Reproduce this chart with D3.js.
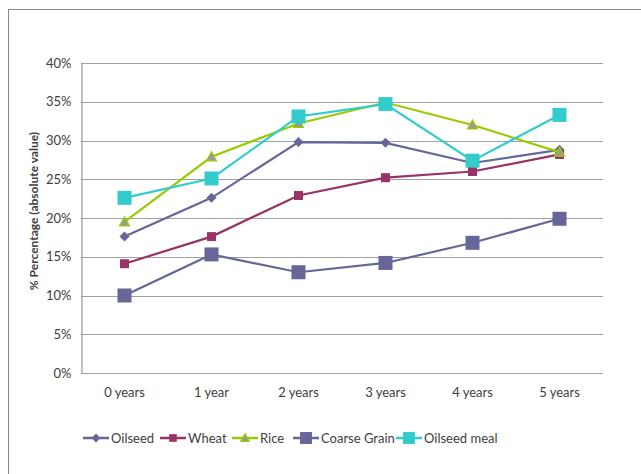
<!DOCTYPE html>
<html>
<head>
<meta charset="utf-8">
<script src="https://cdn.jsdelivr.net/npm/d3@7"></script>
<style>
  body { margin: 0; background: #fff; }
  text { font-family: Lato, "Open Sans", sans-serif; fill: #404040; }
</style>
</head>
<body>
<div id="chart"></div>
<script>
// Categories and series values (fractions)
const years = ["0 years", "1 year", "2 years", "3 years", "4 years", "5 years"];
const yTicks = [0, 0.05, 0.10, 0.15, 0.20, 0.25, 0.30, 0.35, 0.40];

const oilseed     = [0.176, 0.226, 0.298, 0.297, 0.271, 0.288];
const wheat       = [0.141, 0.176, 0.229, 0.252, 0.260, 0.282];
const rice        = [0.195, 0.279, 0.322, 0.349, 0.320, 0.285];
const coarseGrain = [0.100, 0.153, 0.130, 0.142, 0.168, 0.199];
const oilseedMeal = [0.226, 0.251, 0.331, 0.347, 0.274, 0.333];

const series = [
    { name: "Oilseed", values: oilseed, color: "#666699", marker: "diamond", size: 8 },
    { name: "Wheat", values: wheat, color: "#993366", marker: "square", size: 9 },
    { name: "Rice", values: rice, color: "#99cc00", marker: "triangle", size: 10 },
    { name: "Coarse Grain", values: coarseGrain, color: "#666699", marker: "square", size: 14 },
    { name: "Oilseed meal", values: oilseedMeal, color: "#33cccc", marker: "square", size: 14 }
];

const W = 641, H = 474;
const margin = { top: 63, right: 38, bottom: 101, left: 81 },
    width = W - margin.left - margin.right,
    height = H - margin.top - margin.bottom;

const svgRoot = d3.select("#chart")
    .append("svg")
    .attr("width", W)
    .attr("height", H);

// outer frame (only top and left visible)
svgRoot.append("rect")
    .attr("x", 8.5).attr("y", 9.5)
    .attr("width", W + 20).attr("height", H + 20)
    .attr("fill", "none")
    .attr("stroke", "#868686");

const svg = svgRoot.append("g")
    .attr("transform", `translate(${margin.left},${margin.top})`);

const x = d3.scaleBand().domain(years).range([0, width]);
const y = d3.scaleLinear().domain([0, 0.4]).range([height, 0]);

// Gridlines
svg.append("g")
    .selectAll("line")
    .data(yTicks)
    .enter().append("line")
    .attr("x1", 0).attr("x2", width)
    .attr("y1", d => Math.round(y(d)) + 0.5)
    .attr("y2", d => Math.round(y(d)) + 0.5)
    .attr("stroke", "#a0a0a0")
    .attr("stroke-width", 1);

// Y axis
const yAxis = svg.append("g")
    .attr("transform", "translate(0.5,0)")
    .call(d3.axisLeft(y).tickValues(yTicks).tickFormat(d3.format(".0%")).tickSize(0).tickPadding(10));
yAxis.select(".domain").attr("stroke", "#868686");
yAxis.selectAll("text").style("font-size", "13px").style("fill", "#404040");

// X axis labels (no line)
const xAxis = svg.append("g")
    .attr("transform", `translate(0,${height})`)
    .call(d3.axisBottom(x).tickSize(0).tickPadding(15));
xAxis.select(".domain").remove();
xAxis.selectAll("text").style("font-size", "13px").style("fill", "#404040");

// Y axis title
svg.append("text")
    .attr("transform", `translate(${-43},${height / 2 - 7}) rotate(-90)`)
    .attr("text-anchor", "middle")
    .style("font-size", "12px")
    .style("font-weight", "bold")
    .text("% Percentage (absolute value)");

const cx = d => x(d) + x.bandwidth() / 2;

function drawMarker(g, s, px, py, scale) {
    const sz = s.size * (scale || 1);
    if (s.marker === "square") {
        g.append("rect")
            .attr("x", px - sz / 2).attr("y", py - sz / 2)
            .attr("width", sz).attr("height", sz)
            .attr("fill", s.color);
    } else if (s.marker === "diamond") {
        const r = sz / 2 + 1;
        g.append("path")
            .attr("d", `M${px},${py - r}L${px + r},${py}L${px},${py + r}L${px - r},${py}Z`)
            .attr("fill", s.color);
    } else if (s.marker === "triangle") {
        const r = sz / 2;
        g.append("path")
            .attr("d", `M${px},${py - r}L${px + r},${py + r * 0.8}L${px - r},${py + r * 0.8}Z`)
            .attr("fill", "#999999")
            .attr("stroke", s.color)
            .attr("stroke-width", 1.2);
    }
}

const line = d3.line()
    .x((d, i) => cx(years[i]))
    .y(d => y(d));

series.forEach(s => {
    svg.append("path")
        .datum(s.values)
        .attr("fill", "none")
        .attr("stroke", s.color)
        .attr("stroke-width", 2.2)
        .attr("d", line);
    const g = svg.append("g");
    s.values.forEach((v, i) => drawMarker(g, s, cx(years[i]), y(v)));
});

// Legend
const legendX = [83, 160, 232, 293, 396];
const legendY = 438;
const legend = svgRoot.append("g");
series.forEach((s, i) => {
    const lg = legend.append("g");
    lg.append("line")
        .attr("x1", legendX[i]).attr("x2", legendX[i] + 26)
        .attr("y1", legendY).attr("y2", legendY)
        .attr("stroke", s.color)
        .attr("stroke-width", 2.5);
    drawMarker(lg, s, legendX[i] + 13, legendY, 0.85);
    lg.append("text")
        .attr("x", legendX[i] + 28)
        .attr("y", legendY)
        .attr("dy", "0.35em")
        .style("font-size", "13px")
        .text(s.name);
});
</script>
</body>
</html>
